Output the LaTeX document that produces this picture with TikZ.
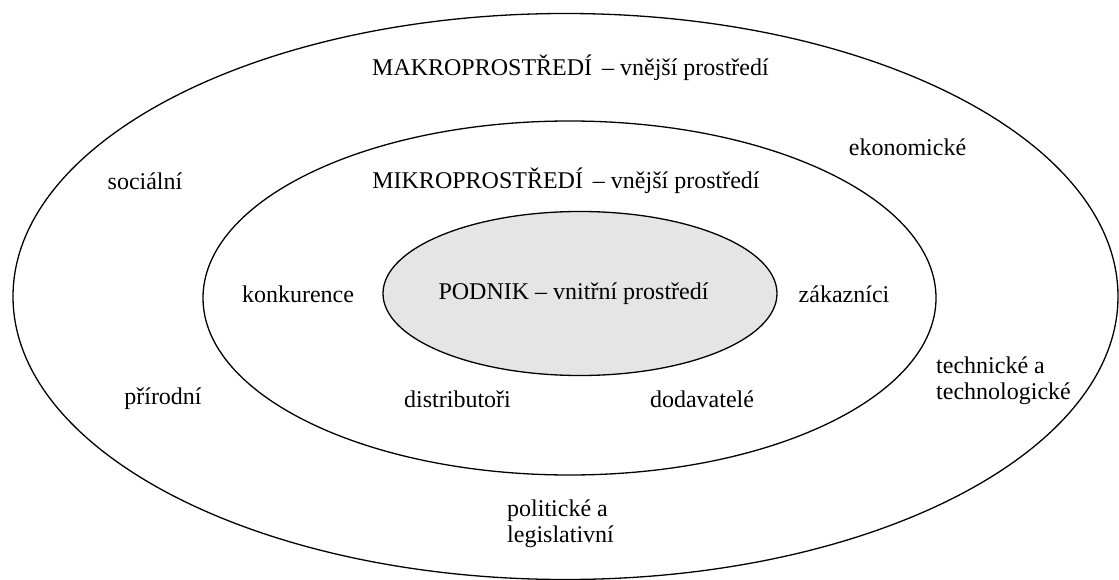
\documentclass[tikz,border=0pt]{standalone}
\usepackage{fontspec}
\setmainfont{Liberation Serif}
\begin{document}
\begin{tikzpicture}[x=1pt,y=-1pt,
  ring/.style={draw=black,line width=1.3pt},
  lbl/.style={inner sep=0pt,font=\fontsize{24}{26}\selectfont},
  lbl2/.style={lbl,align=left,anchor=west}]
\useasboundingbox (0,0) rectangle (1119,580);
% ellipses
\draw[ring] (565.5,296.5) ellipse [x radius=552.5,y radius=283];
\draw[ring] (569.5,298) ellipse [x radius=366.5,y radius=177];
\draw[ring,fill=gray!20] (580,293.5) ellipse [x radius=197,y radius=82];
% labels
\node[lbl] (makro) at (570.5,68) {MAKROPROSTŘEDÍ \,– vnější prostředí};
\node[lbl] (mikro) at (566,181) {MIKROPROSTŘEDÍ \,– vnější prostředí};
\node[lbl] (soc) at (145,181) {sociální};
\node[lbl] (eko) at (907.5,147) {ekonomické};
\node[lbl] (konk) at (298,294) {konkurence};
\node[lbl] (podnik) at (573.5,294) {PODNIK – vnitřní prostředí};
\node[lbl] (zak) at (844,294) {zákazníci};
\node[lbl2] (tech) at (936,381) {technické a\\technologické};
\node[lbl] (prir) at (163,399) {přírodní};
\node[lbl] (dist) at (457.5,399) {distributoři};
\node[lbl] (doda) at (702,399) {dodavatelé};
\node[lbl2] (pol) at (507,523.5) {politické a\\legislativní};
\end{tikzpicture}
\end{document}
